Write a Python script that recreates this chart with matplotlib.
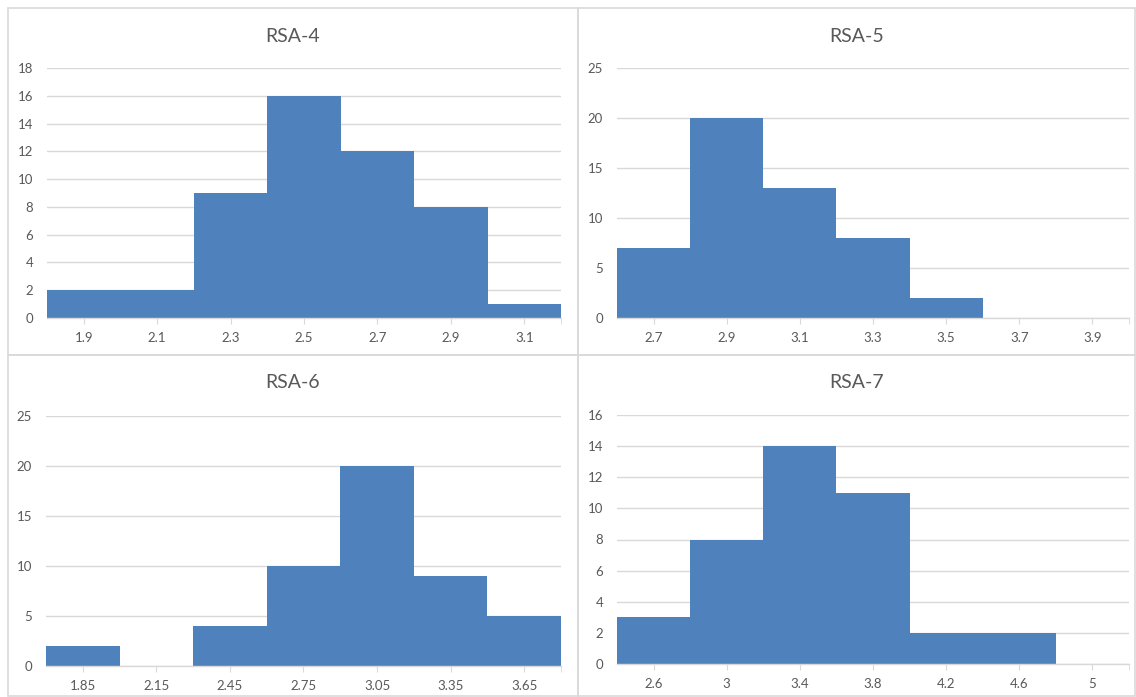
import matplotlib.pyplot as plt
from matplotlib.patches import Rectangle

# histogram data (bin start, bin width, counts)
titles = ["RSA-4", "RSA-5", "RSA-6", "RSA-7"]
bin_start = [1.8, 2.6, 1.7, 2.4]
bin_width = [0.2, 0.2, 0.3, 0.4]
rsa4_counts = [2, 2, 9, 16, 12, 8, 1]
rsa5_counts = [7, 20, 13, 8, 2, 0, 0]
rsa6_counts = [2, 0, 4, 10, 20, 9, 5]
rsa7_counts = [3, 8, 14, 11, 2, 2, 0]
tick_labels = [
    ["1.9", "2.1", "2.3", "2.5", "2.7", "2.9", "3.1"],
    ["2.7", "2.9", "3.1", "3.3", "3.5", "3.7", "3.9"],
    ["1.85", "2.15", "2.45", "2.75", "3.05", "3.35", "3.65"],
    ["2.6", "3", "3.4", "3.8", "4.2", "4.6", "5"],
]
y_max = [18, 25, 25, 16]
y_step = [2, 5, 5, 2]

counts = [rsa4_counts, rsa5_counts, rsa6_counts, rsa7_counts]

W, H = 1136, 697
BAR = "#4F81BD"
GRID = "#D9D9D9"
TXT = "#595959"

plt.rcParams['font.family'] = ['Lato', 'DejaVu Sans']

fig = plt.figure(figsize=(W / 100, H / 100), dpi=100)

# panel frames (pixels: left, top, right, bottom)
panels = [(8, 8, 578, 355), (578, 8, 1135, 355), (8, 355, 578, 696), (578, 355, 1135, 696)]
# plot areas (pixels: left, y of zero, right, y of top)
areas = [(47, 318, 561, 68), (617, 318, 1129, 68), (46, 666, 561, 416), (617, 664, 1129, 415)]
title_y = [37, 37, 383, 383]

for i in range(4):
    l, t, r, b = panels[i]
    fig.patches.append(Rectangle((l / W, 1 - b / H), (r - l) / W, (b - t) / H,
                                 transform=fig.transFigure, fill=False,
                                 edgecolor=GRID, linewidth=1.2))
    fig.text((l + r) / 2 / W, 1 - title_y[i] / H, titles[i], ha='center', va='center',
             fontsize=14, color=TXT)

    al, a0, ar, atop = areas[i]
    ax = fig.add_axes([al / W, 1 - a0 / H, (ar - al) / W, (a0 - atop) / H])
    n = len(counts[i])
    w = bin_width[i]
    lefts = [bin_start[i] + k * w for k in range(n)]
    centers = [x + w / 2 for x in lefts]
    ax.bar(lefts, counts[i], width=w, align='edge', color=BAR,
           linewidth=0, zorder=2)

    ax.set_xlim(bin_start[i], bin_start[i] + n * w)
    ax.set_ylim(0, y_max[i])
    ax.set_yticks(range(0, y_max[i] + 1, y_step[i]))
    ax.set_xticks(centers)
    ax.set_xticklabels(tick_labels[i])
    ax.set_xticks([bin_start[i] + n * w], minor=True)

    ax.grid(axis='y', color=GRID, linewidth=1, zorder=0)
    ax.set_axisbelow(True)
    for s in ['top', 'right', 'left']:
        ax.spines[s].set_visible(False)
    ax.spines['bottom'].set_color(GRID)
    ax.spines['bottom'].set_linewidth(1)
    ax.tick_params(axis='x', which='both', length=4, color=GRID, labelsize=9.5,
                   labelcolor=TXT, pad=6)
    ax.tick_params(axis='y', length=0, labelsize=9.5, labelcolor=TXT, pad=10)

fig.savefig("out.png", dpi=100, facecolor='white')
